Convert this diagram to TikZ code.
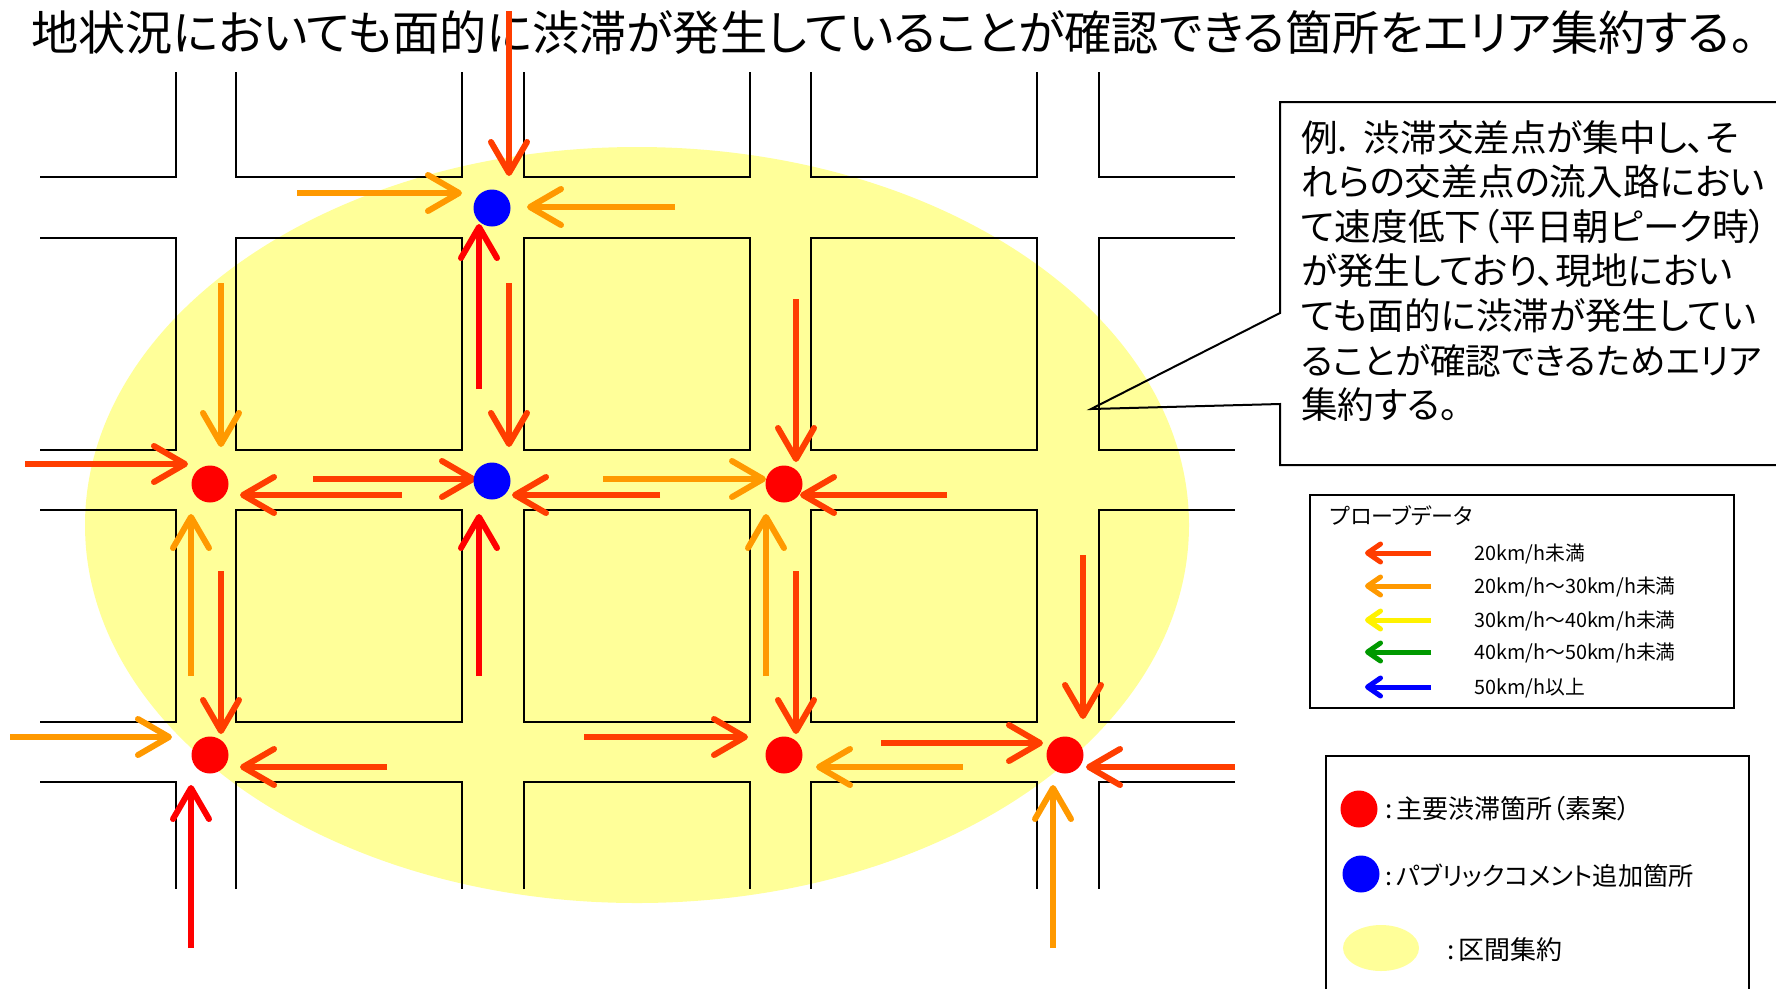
\documentclass[tikz,border=0pt]{standalone}
\usepackage{fontspec}
\setmainfont{Noto Sans CJK JP}[RawFeature=+palt]
\usepackage{xcolor}
\usetikzlibrary{arrows.meta,positioning,shapes.geometric}
\definecolor{slowred}{HTML}{FF3D00}
\definecolor{midorange}{HTML}{FF9900}
\definecolor{areayellow}{HTML}{FFFF99}
\definecolor{midgreen}{HTML}{009900}
\tikzstyle{road} = [black, line width=1.8pt]
\tikzstyle{boxline} = [black, line width=2pt]
\tikzstyle{flow} = [line width=6pt, -{Straight Barb[length=31pt,width=36pt,round]}]
\tikzstyle{keyflow} = [line width=5pt, -{Straight Barb[length=13pt,width=18pt,round]}]
\tikzstyle{spot} = [circle, minimum size=37pt, inner sep=0pt]
\tikzstyle{keytext} = [anchor=west, inner sep=0pt, font=\fontsize{19.8}{24}\selectfont]
\tikzstyle{marktext} = [anchor=west, inner sep=0pt, font=\fontsize{26}{30}\selectfont]
\begin{document}
\begin{tikzpicture}[x=1pt,y=-1pt]
\useasboundingbox (0,0) rectangle (1776,989);
\fill[areayellow] (637,525) ellipse [x radius=552, y radius=378];
% roads
\draw[road] (40,177) -- (176,177) -- (176,72);
\draw[road] (1235,177) -- (1099,177) -- (1099,72);
\foreach \xa/\xb in {236/462,524/750,811/1037} {
    \draw[road] (\xa,72) -- (\xa,177) -- (\xb,177) -- (\xb,72);
    \draw[road] (\xa,238) rectangle (\xb,450);
    \draw[road] (\xa,510) rectangle (\xb,722);
    \draw[road] (\xa,889) -- (\xa,782) -- (\xb,782) -- (\xb,889);
}
\foreach \ya/\yb in {238/450,510/722} {
    \draw[road] (40,\ya) -- (176,\ya) -- (176,\yb) -- (40,\yb);
    \draw[road] (1235,\ya) -- (1099,\ya) -- (1099,\yb) -- (1235,\yb);
}
\draw[road] (40,782) -- (176,782) -- (176,889);
\draw[road] (1235,782) -- (1099,782) -- (1099,889);
\node[anchor=west, inner sep=0pt, font=\fontsize{47.2}{52}\selectfont] (headline) at (31,33) {地状況においても面的に渋滞が発生していることが確認できる箇所をエリア集約する。};
% probe data arrows
\foreach \xa/\ya/\xb/\yb in {509/11/509/176, 509/283/509/447, 25/464/188/464, 402/495/240/495,
    313/479/476/479, 660/495/512/495, 796/299/796/462, 947/495/800/495, 221/571/221/734,
    796/571/796/734, 1083/555/1083/719, 387/767/240/767, 584/737/748/737, 881/743/1043/743,
    1235/767/1086/767}
    \draw[flow, slowred] (\xa,\ya) -- (\xb,\yb);
\foreach \xa/\ya/\xb/\yb in {297/193/462/193, 675/207/527/207, 221/283/221/447, 603/479/766/479,
    191/676/191/514, 766/676/766/514, 10/737/172/737, 963/767/816/767, 1053/948/1053/785}
    \draw[flow, midorange] (\xa,\ya) -- (\xb,\yb);
\foreach \xa/\ya/\xb/\yb in {479/389/479/224, 479/676/479/514, 191/948/191/785}
    \draw[flow, red] (\xa,\ya) -- (\xb,\yb);
% junctions
\node[spot, fill=blue] (north) at (492,208) {};
\node[spot, fill=blue] (centre) at (492,481) {};
\node[spot, fill=red] (west) at (210,484) {};
\node[spot, fill=red] (east) at (784,484) {};
\node[spot, fill=red] (southwest) at (210,755) {};
\node[spot, fill=red] (south) at (784,755) {};
\node[spot, fill=red] (southeast) at (1065,755) {};
% callout
\draw[boxline] (1776,102) -- (1280,102) -- (1280,313) -- (1091,409) -- (1280,404) -- (1280,465) -- (1776,465);
\node[anchor=north west, inner sep=0pt, align=left, font=\fontsize{36.6}{44.6}\selectfont] (example) at (1301,120) {例.\hspace{16pt}渋滞交差点が集中し、そ\\れらの交差点の流入路におい\\て速度低下（平日朝ピーク時）\\が発生しており、現地におい\\ても面的に渋滞が発生してい\\{\fontsize{35.6}{44.6}\selectfont ることが確認できるためエリア}\\集約する。};
% probe legend
\draw[boxline] (1310,495) rectangle (1734,708);
\node[anchor=west, inner sep=0pt, font=\fontsize{22}{24}\selectfont] (probetitle) at (1330,516) {プローブデータ};
\foreach \col/\ypos/\keylabel in {slowred/553/{20km/h未満}, midorange/586/{20km/h～30km/h未満},
    yellow/620/{30km/h～40km/h未満}, midgreen/652/{40km/h～50km/h未満}, blue/687/{50km/h以上}} {
    \coordinate (tail\ypos) at (1431,\ypos);
    \coordinate (tip\ypos) at (1365,\ypos);
    \draw[keyflow, \col] (tail\ypos) -- (tip\ypos);
    \node[keytext, yshift=-0.8pt] (label\ypos) at (1474,\ypos) {\keylabel};
}
% marker legend
\draw[boxline] (1326,989) -- (1326,756) -- (1749,756) -- (1749,989);
\node[spot, fill=red] (redmark) at (1359,809) {};
\node[spot, fill=blue] (bluemark) at (1361,874) {};
\node[ellipse, fill=areayellow, minimum width=76pt, minimum height=46pt, inner sep=0pt] (areamark) at (1381,948) {};
\node[marktext] (redtext) at (1385,809) {:\hspace{4pt}主要渋滞箇所（素案）};
\node[marktext, font=\fontsize{25.2}{30}\selectfont] (bluetext) at (1385,876) {:\hspace{4pt}パブリックコメント追加箇所};
\node[marktext] (areatext) at (1447,950) {:\hspace{4pt}区間集約};
\end{tikzpicture}
\end{document}
